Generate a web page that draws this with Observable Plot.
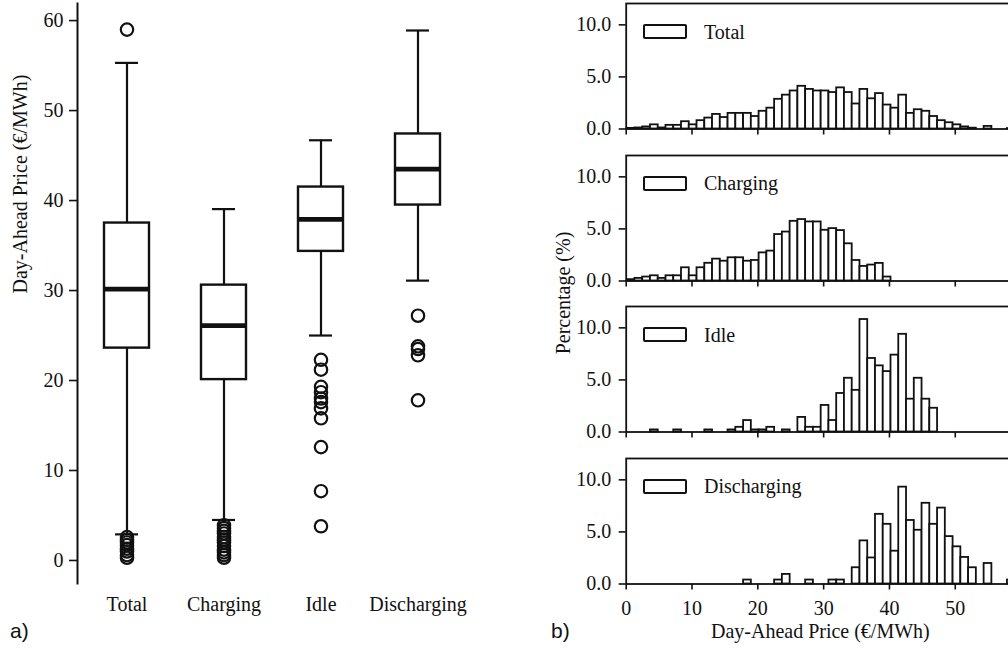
<!DOCTYPE html>
<html><head><meta charset="utf-8">
<script src="https://cdn.jsdelivr.net/npm/d3@7"></script>
<script src="https://cdn.jsdelivr.net/npm/@observablehq/plot@0.6"></script>
<style>
html,body{margin:0;padding:0;background:#fff;overflow:hidden;width:1008px;height:655px;}
#root{position:relative;width:1008px;height:655px;overflow:hidden;font-family:"Liberation Serif",serif;color:#111;}
.abs{position:absolute;white-space:nowrap;}
svg{max-width:none !important;}
.legbox{position:absolute;box-sizing:border-box;width:44px;height:15px;border:2px solid #111;border-radius:2px;background:#fff;}
.legtxt{position:absolute;font-size:20px;line-height:24px;}
</style></head><body><div id="root"></div>
<script>
// ---------- data: box plot (a) ----------
const categories = ["Total", "Charging", "Idle", "Discharging"];
const whiskerLow  = [2.9, 4.5, 25.0, 31.1];
const q1          = [23.6, 20.1, 34.35, 39.5];
const median      = [30.15, 26.1, 37.9, 43.5];
const q3          = [37.5, 30.6, 41.5, 47.4];
const whiskerHigh = [55.3, 39.05, 46.7, 58.9];
const outliersTotal = [59.0, 2.6, 2.3, 2.0, 1.7, 1.3, 1.0, 0.6, 0.3];
const outliersCharging = [3.9, 3.6, 3.3, 3.0, 2.6, 2.3, 2.0, 1.6, 1.2, 0.9, 0.6, 0.3];
const outliersIdle = [22.3, 21.2, 19.3, 18.7, 18.0, 17.6, 16.9, 15.8, 12.6, 7.7, 3.8];
const outliersDischarging = [27.2, 23.8, 23.5, 22.8, 17.8];
const yTicksLeft = [0, 10, 20, 30, 40, 50, 60];
const yLabelLeft = "Day-Ahead Price (€/MWh)";

// ---------- data: histograms (b), % per price bin ----------
const binStart = 0.15, binWidth = 1.179, binCount = 50;
const pctTotal = [
  0.06,0.1,0.2,0.4,0.1,0.35,0.35,0.7,0.4,0.8,
  1.05,1.4,1.1,1.5,1.5,1.5,1.2,1.7,2.0,2.85,
  3.25,3.65,4.1,3.8,3.65,3.65,3.5,3.95,3.5,2.4,
  3.8,2.9,3.4,2.3,2.0,3.25,1.5,1.85,1.7,1.2,
  0.8,0.6,0.4,0.2,0.08,0,0.25,0,0,0.04];
const pctCharging = [
  0.13,0.25,0.38,0.5,0.25,0.5,0.5,1.27,0.5,1.27,
  1.7,2.1,1.9,2.23,2.23,1.9,1.97,2.7,2.87,4.46,
  4.7,5.73,5.9,5.67,5.67,4.87,5.03,4.84,3.57,1.97,
  1.4,1.53,1.69,0.38,0,0,0,0,0,0,
  0,0,0,0,0,0,0,0,0,0];
const pctIdle = [
  0,0,0,0.2,0,0,0.2,0,0,0,
  0.2,0,0,0.2,0.45,1.1,0.2,0.2,0.45,0,
  0.2,0,1.4,0.45,0.45,2.55,1.1,3.7,5.16,4.0,
  10.8,7.06,6.35,5.8,7.38,9.38,3.15,5.16,3.15,2.28,
  0,0,0,0,0,0,0,0,0,0];
const pctDischarging = [
  0,0,0,0,0,0,0,0,0,0,
  0,0,0,0,0,0.38,0,0,0,0.38,
  0.92,0,0,0.38,0,0,0.38,0.38,0,1.56,
  4.14,2.5,6.69,5.73,3.15,9.3,6.1,5.16,7.75,5.73,
  7.29,4.55,3.57,2.55,1.56,0,1.97,0,0,0.38];
const panelNames = ["Total", "Charging", "Idle", "Discharging"];
const panelData = [pctTotal, pctCharging, pctIdle, pctDischarging];
const xTicksRight = [0, 10, 20, 30, 40, 50];
const yTicksRight = [0, 5, 10];
const xLabelRight = "Day-Ahead Price (€/MWh)";
const yLabelRight = "Percentage (%)";

const root = document.getElementById("root");
const INK = "#111";
const FONT = {fontFamily: '"Liberation Serif", serif', fontSize: "20px", background: "transparent", color: INK, overflow: "visible"};

function place(el, left, top) {
  el.style.position = "absolute";
  el.style.left = left + "px";
  el.style.top = top + "px";
  root.appendChild(el);
}

// ---------- left: box plot ----------
const boxes = categories.map((c, i) => ({cat: c, lo: whiskerLow[i], q1: q1[i], med: median[i], q3: q3[i], hi: whiskerHigh[i]}));
const outlierLists = [outliersTotal, outliersCharging, outliersIdle, outliersDischarging];
const outliers = outlierLists.flatMap((arr, i) => arr.map(v => ({cat: categories[i], v})));

const left = Plot.plot({
  width: 470, height: 655,
  marginLeft: 77, marginRight: 4, marginTop: 3, marginBottom: 72,
  style: FONT,
  x: {type: "band", domain: categories, padding: 0},
  y: {domain: [-2.56, 61.9]},
  marks: [
    Plot.ruleX(boxes, {x: "cat", y1: "lo", y2: "q1", stroke: INK, strokeWidth: 2.2}),
    Plot.ruleX(boxes, {x: "cat", y1: "q3", y2: "hi", stroke: INK, strokeWidth: 2.2}),
    Plot.tickY(boxes, {x: "cat", y: "lo", stroke: INK, strokeWidth: 2.2, inset: 37}),
    Plot.tickY(boxes, {x: "cat", y: "hi", stroke: INK, strokeWidth: 2.2, inset: 37}),
    Plot.barY(boxes, {x: "cat", y1: "q1", y2: "q3", fill: "white", stroke: INK, strokeWidth: 2.4, insetLeft: 26, insetRight: 26}),
    Plot.tickY(boxes, {x: "cat", y: "med", stroke: INK, strokeWidth: 4.8, inset: 25}),
    Plot.dot(outliers, {x: "cat", y: "v", r: 6.2, stroke: INK, strokeWidth: 2.2, fill: "none"}),
    Plot.axisY({ticks: yTicksLeft, tickSize: 8, tickPadding: 6, label: null, strokeWidth: 1.6}),
    Plot.axisX({tickSize: 0, tickPadding: 13, label: null}),
    Plot.frame({anchor: "left", stroke: INK, strokeWidth: 2}),
    Plot.text([yLabelLeft], {frameAnchor: "left", dx: -56.5, rotate: -90, fontSize: 20, fill: INK})
  ]
});
place(left, 0, 0);

// ---------- right: histograms ----------
const binEdges = d3.range(binCount + 1).map(k => binStart + k * binWidth);
const panelTops = [3.3, 154.8, 306, 457.7];
const panelH = 125.5;
panelData.forEach((pct, i) => {
  const last = i === panelData.length - 1;
  const bars = pct.map((v, k) => ({x1: binEdges[k], x2: binEdges[k + 1], v})).filter(d => d.v > 0);
  const mt = 5, mb = last ? 655 - (panelTops[i] + panelH) : 12;
  const marks = [
    Plot.rectY(bars, {x1: "x1", x2: "x2", y: "v", fill: "white", stroke: INK, strokeWidth: 1.8}),
    Plot.frame({stroke: INK, strokeWidth: 1.8}),
    Plot.axisY({ticks: yTicksRight, tickFormat: d3.format(".1f"), tickSize: 7, tickPadding: 8, label: null, strokeWidth: 1.6}),
    Plot.axisX({ticks: xTicksRight, tickSize: 6, tickPadding: 11, label: null, strokeWidth: 1.6,
                tickFormat: last ? d3.format("d") : () => ""})
  ];
  if (last) marks.push(Plot.text([xLabelRight], {frameAnchor: "bottom", dy: 54, fontSize: 20, fill: INK}));
  const p = Plot.plot({
    width: 470, height: mt + panelH + mb,
    marginLeft: 65.7, marginRight: 16, marginTop: mt, marginBottom: mb,
    style: FONT,
    x: {domain: [0, 59]},
    y: {domain: [0, 12.05]},
    marks
  });
  place(p, 560, panelTops[i] - mt);

  const box = document.createElement("div");
  box.className = "legbox";
  place(box, 643, panelTops[i] + 21);
  const txt = document.createElement("div");
  txt.className = "legtxt";
  txt.textContent = panelNames[i];
  place(txt, 704, panelTops[i] + 16.5);
});

// y label of right side
const yl = document.createElement("div");
yl.className = "abs";
yl.textContent = yLabelRight;
yl.style.fontSize = "20px";
yl.style.lineHeight = "20px";
yl.style.transform = "translate(-50%, -50%) rotate(-90deg)";
place(yl, 563, 293);

// panel letters
const la = document.createElement("div");
la.className = "abs";
la.textContent = "a)";
la.style.fontFamily = '"Liberation Sans", Arial, sans-serif';
la.style.fontSize = "21px";
la.style.lineHeight = "24px";
place(la, 10, 619);
const lb = document.createElement("div");
lb.className = "abs";
lb.textContent = "b)";
lb.style.fontFamily = '"Liberation Sans", Arial, sans-serif';
lb.style.fontSize = "21px";
lb.style.lineHeight = "24px";
place(lb, 551, 619);
</script></body></html>
